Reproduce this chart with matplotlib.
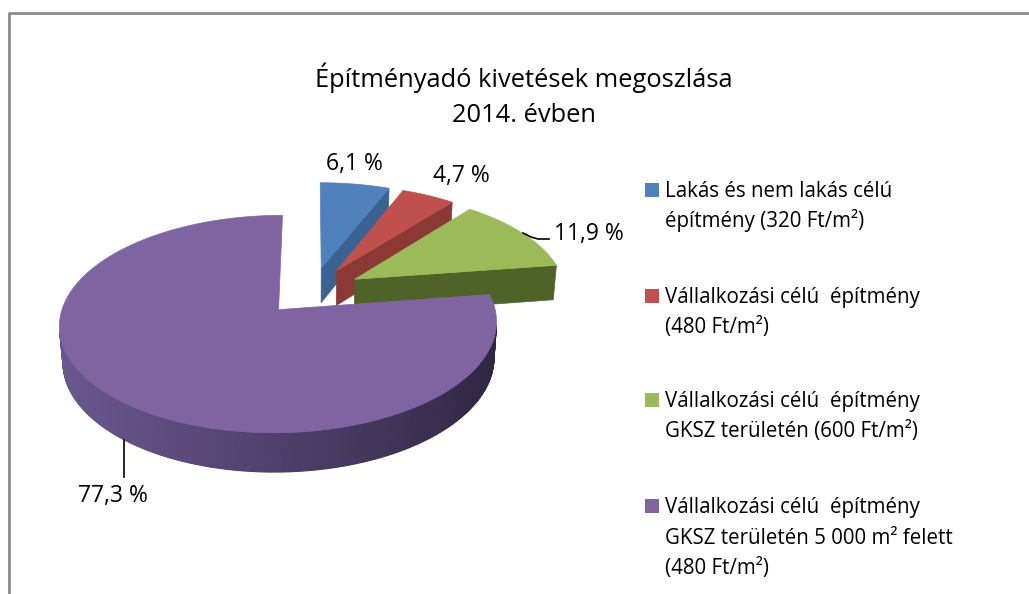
import numpy as np
import matplotlib.pyplot as plt
from matplotlib.patches import Polygon, Rectangle
from matplotlib.colors import to_rgb

# data
shares = [6.1, 4.7, 11.9, 77.3]
pct_labels = ['6,1 %', '4,7 %', '11,9 %', '77,3 %']
legend_labels = [
    'Lakás és nem lakás célú\népítmény (320 Ft/m²)',
    'Vállalkozási célú  építmény\n(480 Ft/m²)',
    'Vállalkozási célú  építmény\nGKSZ területén (600 Ft/m²)',
    'Vállalkozási célú  építmény\nGKSZ területén 5 000 m² felett\n(480 Ft/m²)',
]
title_lines = ['Építményadó kivetések megoszlása', '2014. évben']

top_colors = ['#4F81BD', '#C0504D', '#9BBB59', '#8064A2']
side_dark = ['#3A6393', '#8C3936', '#4F6228', '#2E2540']
side_light = ['#3A6393', '#8C3936', '#4F6228', '#6C5891']

# 3d projection setup (screen pixels)
PHI = np.radians(28.8)
DIST = 6.76
FOC = 1430
CX, CY = 312, 291
HEIGHT = 0.193
EXPLODE = 0.236

plt.rcParams['font.family'] = ['Open Sans', 'DejaVu Sans']


def proj(X, Z, Y=0.0):
    up = Y * np.cos(PHI) + Z * np.sin(PHI)
    depth = DIST + Z * np.cos(PHI) - Y * np.sin(PHI)
    return CX + FOC * X / depth, CY - FOC * up / depth


def facing(nx, nz, px, py, pz):
    cam = np.array([0.0, DIST * np.sin(PHI), -DIST * np.cos(PHI)])
    v = cam - np.array([px, py, pz])
    return nx * v[0] + nz * v[2]


def mix(c1, c2, t):
    a, b = np.array(to_rgb(c1)), np.array(to_rgb(c2))
    return tuple(a + (b - a) * t)


fig = plt.figure(figsize=(10.29, 5.94), dpi=100)
ax = fig.add_axes([0, 0, 1, 1])
ax.set_xlim(0, 1029)
ax.set_ylim(594, 0)
ax.axis('off')

# frame
ax.plot([9, 9, 1029], [594, 13, 13], color='#8C8C8C', lw=2, solid_capstyle='butt')

cum = np.concatenate([[0], np.cumsum(shares)])
slices = []
for i in range(len(shares)):
    t1 = np.radians(90 - cum[i] * 3.6)
    t2 = np.radians(90 - cum[i + 1] * 3.6)
    mid = (t1 + t2) / 2
    ox, oz = EXPLODE * np.cos(mid), EXPLODE * np.sin(mid)
    slices.append((i, t1, t2, mid, ox, oz))

# back to front
for i, t1, t2, mid, ox, oz in sorted(slices, key=lambda s: -s[5]):
    ts = np.linspace(t1, t2, max(int(abs(t1 - t2) / 0.01), 4))
    # radial faces (skip the ones seen almost edge-on)
    for t, sgn in [(t1, 1), (t2, -1)]:
        nx, nz = -np.sin(t) * sgn, np.cos(t) * sgn
        if facing(nx, nz, ox, 0, oz) > 0.5:
            pts = [proj(ox, oz), proj(ox + np.cos(t), oz + np.sin(t)),
                   proj(ox + np.cos(t), oz + np.sin(t), -HEIGHT), proj(ox, oz, -HEIGHT)]
            ax.add_patch(Polygon(pts, closed=True, fc=side_dark[i], ec=side_dark[i], lw=0.5))
    # outer side
    for a, b in zip(ts[:-1], ts[1:]):
        m = (a + b) / 2
        if facing(np.cos(m), np.sin(m), ox + np.cos(m), 0, oz + np.sin(m)) <= 0:
            continue
        shade = (np.cos(m) + 1) / 2
        col = mix(side_light[i], side_dark[i], shade ** 1.1)
        pts = [proj(ox + np.cos(a), oz + np.sin(a)), proj(ox + np.cos(b), oz + np.sin(b)),
               proj(ox + np.cos(b), oz + np.sin(b), -HEIGHT), proj(ox + np.cos(a), oz + np.sin(a), -HEIGHT)]
        ax.add_patch(Polygon(pts, closed=True, fc=col, ec=col, lw=0.8))
    # top face
    pts = [proj(ox, oz)] + [proj(ox + np.cos(t), oz + np.sin(t)) for t in ts]
    ax.add_patch(Polygon(pts, closed=True, fc=top_colors[i], ec=top_colors[i], lw=0.5))

# data labels
label_xy = [(354, 170), (461, 182), (589, 240), (113, 502)]
for txt, (x, y) in zip(pct_labels, label_xy):
    ax.text(x, y, txt, ha='center', va='baseline', fontsize=16.5, color='black')
ax.plot([523, 531, 538, 549], [233, 237, 239, 239], color='black', lw=1.2)
ax.plot([124, 124], [440, 477], color='black', lw=1.2)

# title
for j, line in enumerate(title_lines):
    ax.text(524, 87 + 35 * j, line, ha='center', va='baseline', fontsize=18.4)

# legend
leg_y = [190, 296, 400, 506]
for lab, col, y in zip(legend_labels, top_colors, leg_y):
    ax.add_patch(Rectangle((645, y - 7), 14, 14, fc=col, ec='none'))
    for j, line in enumerate(lab.split('\n')):
        ax.text(665, y + 7 + 30.5 * j, line, ha='left', va='baseline', fontsize=14.8)

fig.savefig('out.png', dpi=100)
